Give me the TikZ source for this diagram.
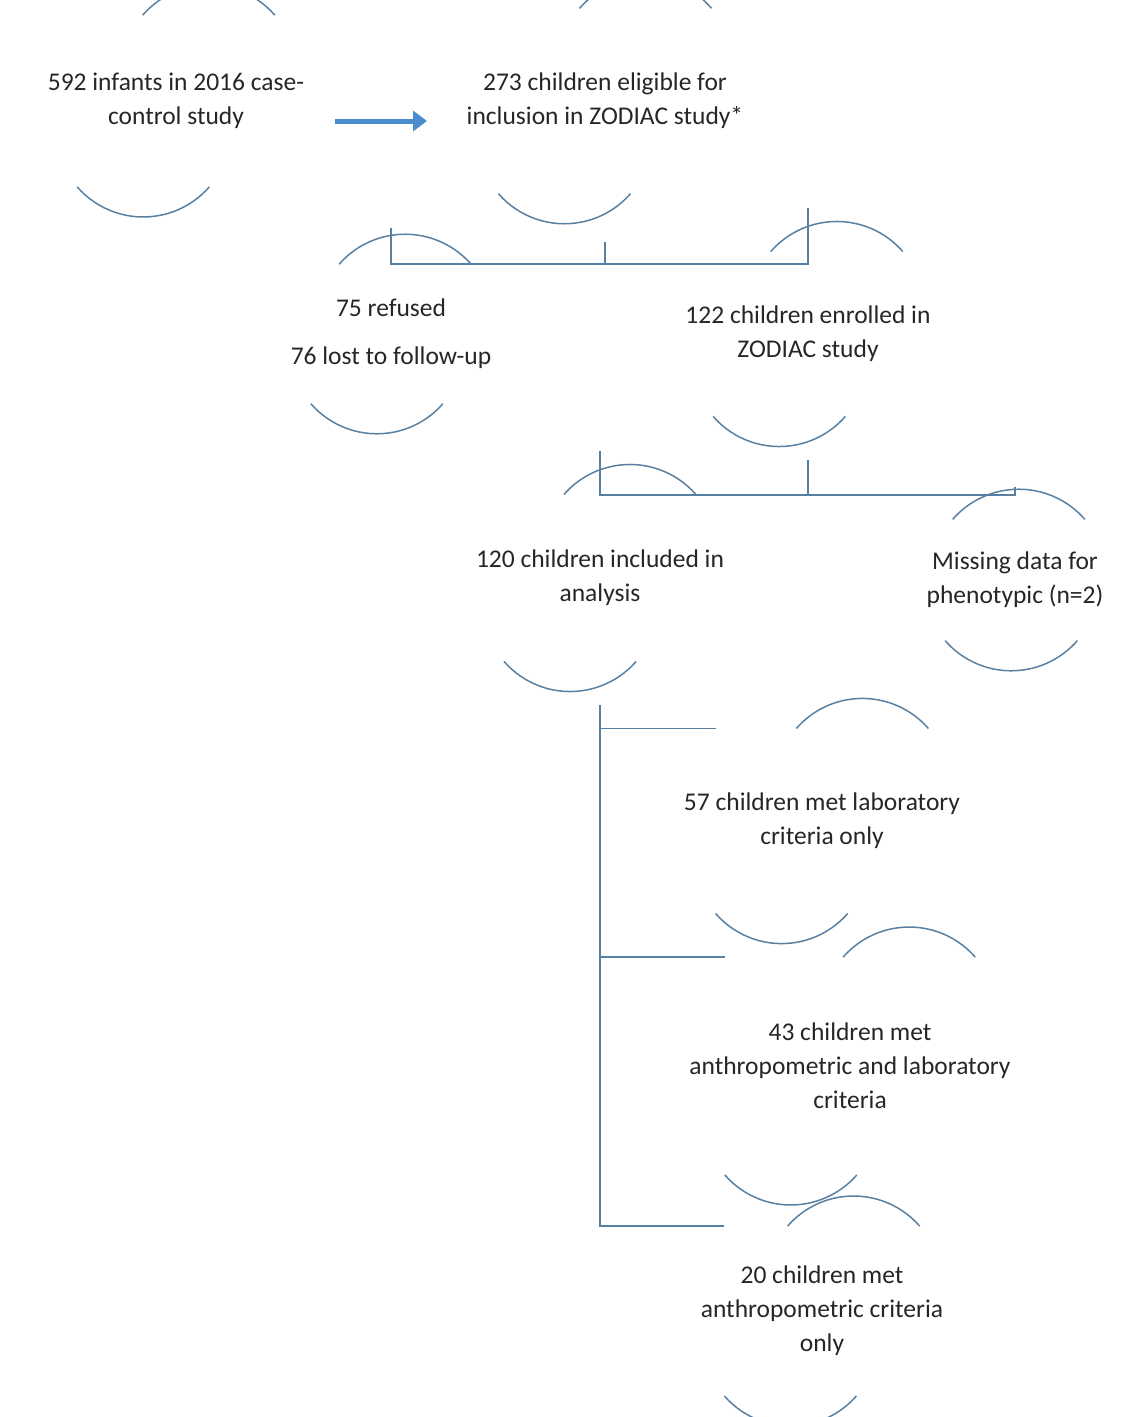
\documentclass[tikz,border=0pt]{standalone}
\usepackage{fontspec}
\setmainfont{Carlito}
\usetikzlibrary{arrows.meta}
\definecolor{ln}{RGB}{88,128,162}
\definecolor{ar}{RGB}{74,140,205}
\begin{document}
\begin{tikzpicture}[x=1pt,y=1pt,
  bub/.style={circle,minimum size=175pt,inner sep=0pt,align=center,font=\fontsize{25.5}{34}\selectfont,text=black!85},
  con/.style={draw=ln,line width=1.8pt}]
\useasboundingbox (0,0) rectangle (1146,-1417);
\node[bub] (n1) at (176,-101) {592 infants in 2016 case-\\control study};
\node[bub] (n2) at (605,-101) {273 children eligible for\\inclusion in ZODIAC study*};
\node[bub,font=\fontsize{25.5}{48}\selectfont] (n3) at (391,-334) {75 refused\\76 lost to follow-up};
\node[bub] (n4) at (808,-334) {122 children enrolled in\\ZODIAC study};
\node[bub] (n5) at (600,-578) {120 children included in\\analysis};
\node[bub] (n6) at (1015,-580) {Missing data for\\phenotypic (n=2)};
\node[bub] (n7) at (822,-821) {57 children met laboratory\\criteria only};
\node[bub] (n8) at (850,-1066) {43 children met\\anthropometric and laboratory\\criteria};
\node[bub] (n9) at (822,-1311) {20 children met\\anthropometric criteria\\only};
\foreach \n in {n1,n2,n3,n4,n5,n6,n7,n8,n9}
  \draw[con,line width=1.5pt] (\n.41) arc[start angle=41,end angle=139,radius=87.5pt]
        (\n.221) arc[start angle=221,end angle=319,radius=87.5pt];
\draw[draw=ar,line width=5pt,-{Triangle[length=14pt,width=20pt]}] (335,-121) coordinate (a0) -- (427,-121) coordinate (a1);
\draw[con] (n2.south) -- ++(0,-22) coordinate (j1);
\draw[con] (n3.north) |- (j1) -| (n4.north);
\draw[con] (n4.south) -- ++(0,-35) coordinate (j2);
\draw[con] (n5.north) |- (j2) -| (n6.north);
\draw[con] (n5.south) |- (n9.139);
\draw[con] (n5.south |- n7.139) -- (n7.139);
\draw[con] (n5.south |- n8.139) -- (n8.139);
\end{tikzpicture}
\end{document}
